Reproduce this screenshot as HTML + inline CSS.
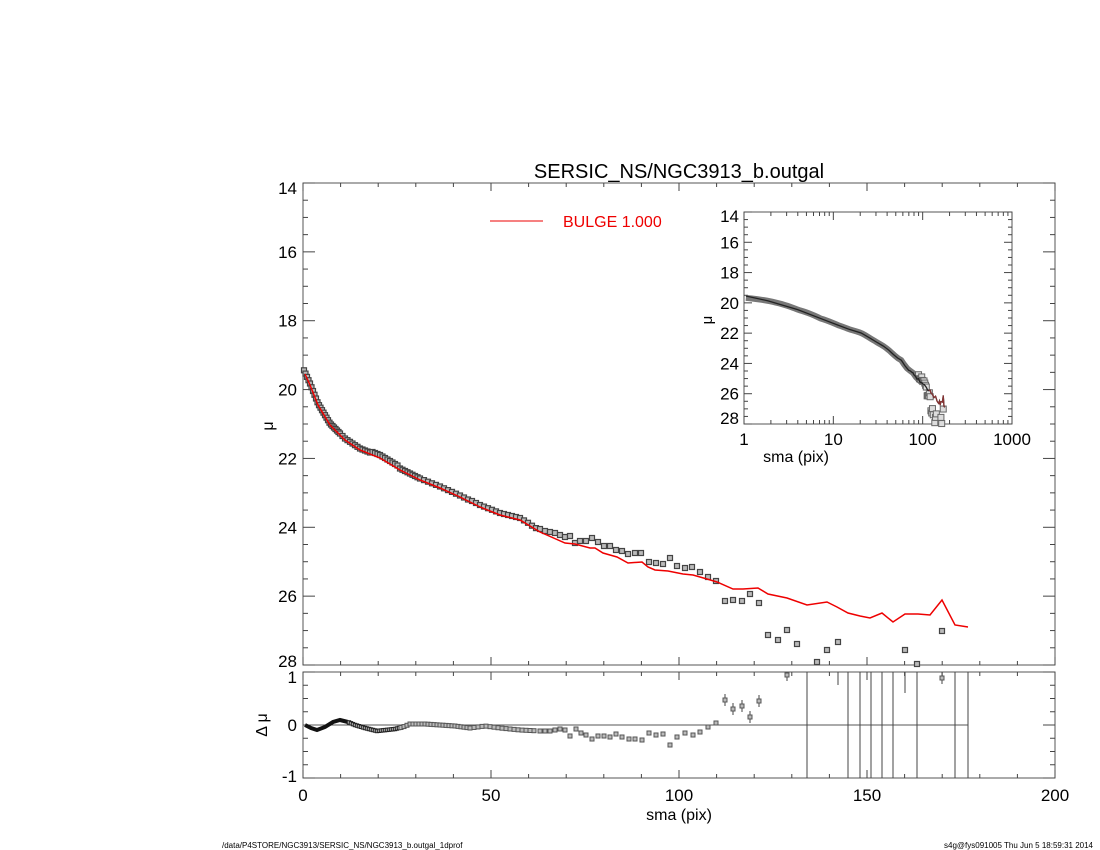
<!DOCTYPE html>
<html><head><meta charset="utf-8"><style>
body{margin:0;background:#fff}
svg{display:block}
text{font-family:"Liberation Sans",sans-serif;fill:#000}
</style></head><body>
<svg id="s" width="1100" height="850" xmlns="http://www.w3.org/2000/svg">
<text x="679" y="178" font-size="20" text-anchor="middle">SERSIC_NS/NGC3913_b.outgal</text>
<line x1="490" y1="221" x2="543" y2="221" stroke="#e00" stroke-width="1"/>
<text x="563" y="227" font-size="16" style="fill:#e00">BULGE  1.000</text>
<text x="679" y="820" font-size="16" text-anchor="middle">sma (pix)</text>
<text x="267" y="432" font-size="16" text-anchor="middle" transform="rotate(-90 267 426)">μ</text>
<text x="267" y="725" font-size="16" text-anchor="middle" transform="rotate(-90 267 725)">Δ μ</text>
<text x="222" y="848" font-size="8">/data/P4STORE/NGC3913/SERSIC_NS/NGC3913_b.outgal_1dprof</text>
<text x="1093" y="848" font-size="8" text-anchor="end">s4g@fys091005  Thu Jun  5 18:59:31 2014</text>
<text x="796" y="462" font-size="16" text-anchor="middle">sma (pix)</text>
<text x="712" y="320" font-size="15" text-anchor="middle" transform="rotate(-90 712 320)">μ</text>
</svg>
<script>
const S=document.getElementById('s'),NS='http://www.w3.org/2000/svg';
function el(t,a,txt){const e=document.createElementNS(NS,t);for(const k in a)e.setAttribute(k,a[k]);if(txt!==undefined)e.textContent=txt;S.appendChild(e);return e;}
function line(x1,y1,x2,y2,c,w){el('line',{x1,y1,x2,y2,stroke:c||'#444','stroke-width':w||1});}
const X0=303,X1=1055,Y0=183,Y1=665,RY0=672,RY1=778;
el('rect',{x:X0,y:Y0,width:X1-X0,height:Y1-Y0,fill:'none',stroke:'#555'});
el('rect',{x:X0,y:RY0,width:X1-X0,height:RY1-RY0,fill:'none',stroke:'#555'});
const xs=v=>X0+(X1-X0)*v/200, ys=m=>Y0+(Y1-Y0)*(m-14)/14, rs=d=>725-53*d;
for(let v=0;v<=200;v+=10){const x=xs(v),L=v%50==0?8:4;
 line(x,Y0,x,Y0+L);line(x,Y1,x,Y1-L);line(x,RY0,x,RY0+L);line(x,RY1,x,RY1-L);
 if(v%50==0)el('text',{x:x,y:801,'font-size':17,'text-anchor':'middle'},v);}
for(let m=14;m<=28;m+=0.5){const y=ys(m),L=(m%2==0)?12:5;line(X0,y,X0+L,y);line(X1,y,X1-L,y);
 if(m%2==0){let by=y+6;if(m==14)by=194;if(m==28)by=667;el('text',{x:297,y:by,'font-size':17,'text-anchor':'end'},m);}}
for(let d=-1;d<=1;d+=0.25){const y=rs(d),L=(d%1==0)?12:5;line(X0,y,X0+L,y);line(X1,y,X1-L,y);}
[[683,'1'],[731,'0'],[782,'-1']].forEach(([y,t])=>el('text',{x:297,y:y,'font-size':17,'text-anchor':'end'},t));
const R=[[305,374],[310,385],[318,405],[330,425],[345,440],[360,450],[380,458],[400,470],[420,480],[440,488],[460,497],[480,507],[500,515],[520,520],[540,532],[565,543],[575,544],[590,548],[595,548],[603,553],[617,557],[628,563],[642,562],[648,567],[655,570],[668,571],[683,574],[693,575],[707,579],[717,582],[733,589],[743,589],[758,588],[768,594],[787,598],[807,605],[827,602],[837,607],[848,613],[860,616],[870,618],[882,613],[893,622],[905,614],[918,614],[930,615],[942,600],[955,625],[968,627]];
function interp(x){for(let i=1;i<R.length;i++)if(R[i][0]>=x){const a=R[i-1],b=R[i],t=(x-a[0])/(b[0]-a[0]);return a[1]+t*(b[1]-a[1]);}return R[R.length-1][1];}
const P=[];
for(let x=304;x<540;x+=(x<340?1.5:x<420?2.5:4)){let off=-1.5;if(x>370&&x<400)off=-3;if(x>470&&x<530)off=-2;P.push([x,interp(x)+off]);}
P.push(...[[540,529],[545,531],[550,532],[555,533],[560,535],[565,537],[570,536],[575,543],[580,541],[586,541],[592,538],[598,542],[604,546],[610,546],[616,550],[622,551],[628,554],[635,553],[641,553],[649,562],[656,563],[663,564],[670,558],[677,566],[685,568],[692,567],[700,572],[708,577],[716,581],[725,601],[733,600],[742,601],[750,594],[759,603],[768,635],[778,640],[787,630],[797,644],[817,662],[827,650],[838,642],[905,650],[917,664],[942,631]]);
let g='';
P.forEach(([x,y])=>{if(y<=Y1)g+=`<rect x="${x-2.5}" y="${y-2.5}" width="5" height="5" fill="#bbb" stroke="#444" stroke-width="1.2"/>`;});
S.insertAdjacentHTML('beforeend',g);
el('polyline',{points:R.map(p=>p.join(',')).join(' '),fill:'none',stroke:'#e00','stroke-width':1.5});
line(X0,725,968,725,'#555',1);
[807,848,860,871,882,893,917,955,968].forEach(x=>line(x,RY0,x,RY1,'#444',1));
const RI=[[305,725],[311,728],[317,730],[325,727],[333,722],[340,720],[348,722]];
el('polyline',{points:RI.map(p=>p.join(',')).join(' '),fill:'none',stroke:'#111','stroke-width':4});
const W=[[348,722],[355,725],[365,728],[377,731],[386,730],[395,729],[403,727],[410,724],[425,724],[440,725],[455,726],[470,728],[485,726],[500,728],[520,730],[540,731]];
function wi(x){for(let i=1;i<W.length;i++)if(W[i][0]>=x){const a=W[i-1],b=W[i],t=(x-a[0])/(b[0]-a[0]);return a[1]+t*(b[1]-a[1]);}return 731;}
const RP=[];
for(let x=349;x<538;x+=(x<400?2:x<470?3:4))RP.push([x,wi(x)]);
RP.push(...[[540,731],[545,731],[550,731],[555,730],[560,729],[565,730],[570,736],[576,729],[581,733],[586,735],[592,739],[598,736],[604,736],[610,737],[616,734],[622,737],[629,739],[635,739],[642,740],[649,733],[656,735],[663,734],[670,745],[677,737],[685,733],[693,735],[700,732],[708,727],[716,723],[725,700],[733,709],[742,706],[750,717],[759,701],[787,675],[942,678]]);
g='';
RP.forEach(([x,y])=>{const e=x>720?6:1;const s=x<400?3.4:4;g+=`<line x1="${x}" y1="${Math.max(RY0,y-e)}" x2="${x}" y2="${y+e}" stroke="#444"/><rect x="${x-s/2}" y="${y-s/2}" width="${s}" height="${s}" fill="#bbb" stroke="${x<400?'#222':'#555'}" stroke-width="1"/>`;});
S.insertAdjacentHTML('beforeend',g);
line(838,RY0,838,685);line(905,RY0,905,693);
const IX0=744,IX1=1012,IY0=212,IY1=424;
el('rect',{x:IX0,y:IY0,width:IX1-IX0,height:IY1-IY0,fill:'#fff',stroke:'#555'});
const ix=r=>IX0+(IX1-IX0)*Math.log10(r)/3, iy=m=>IY0+(IY1-IY0)*(m-14)/14;
for(let dec=1;dec<=1000;dec*=10){for(let k=1;k<10;k++){const v=dec*k;if(v>1000)break;const x=ix(v),L=k==1?8:4;line(x,IY0,x,IY0+L);line(x,IY1,x,IY1-L);if(k==1)el('text',{x:x,y:445,'font-size':17,'text-anchor':'middle'},dec);}}
for(let m=14;m<=28;m+=0.5){const y=iy(m),L=m%2==0?8:4;line(IX0,y,IX0+L,y);line(IX1,y,IX1-L,y);if(m%2==0){let by=y+6;if(m==14)by=222;if(m==28)by=424;el('text',{x:739,y:by,'font-size':17,'text-anchor':'end'},m);}}
const toI=([px,py])=>{const r=(px-X0)/3.76,m=14+(py-Y0)/34.43;return [ix(Math.max(r,1.05)),iy(m)];};
const band=[];for(let r=1.05;r<100;r*=1.08){const px=X0+r*3.76;band.push(toI([px,interp(px)]));}
el('polyline',{points:band.map(p=>p.join(',')).join(' '),fill:'none',stroke:'#777','stroke-width':6});
g='';
P.filter(p=>p[0]>640&&p[1]<=Y1+20).forEach(p=>{const [x,y]=toI(p);if(y<IY1)g+=`<rect x="${x-3}" y="${y-3}" width="6" height="6" fill="#ddd" stroke="#666" stroke-width="1"/>`;});
S.insertAdjacentHTML('beforeend',g);
el('polyline',{points:R.map(toI).map(p=>p.join(',')).join(' '),fill:'none',stroke:'#222','stroke-width':1.3});
el('polyline',{points:R.filter(p=>p[0]>740).map(toI).map(p=>p.join(',')).join(' '),fill:'none',stroke:'#833','stroke-width':1.2});
</script>
</body></html>
